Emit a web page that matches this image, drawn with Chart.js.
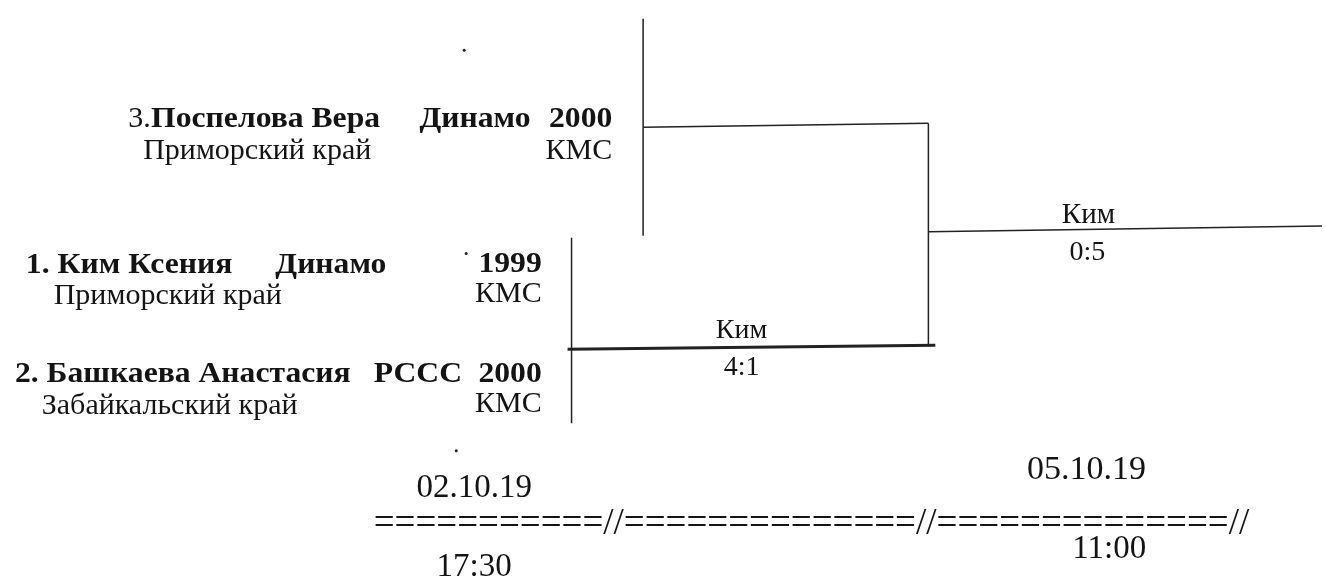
<!DOCTYPE html>
<html>
<head>
<meta charset="utf-8">
<script src="https://cdn.jsdelivr.net/npm/chart.js@4"></script>
<style>
  html, body { margin: 0; padding: 0; background: #fff; overflow: hidden; }
</style>
</head>
<body>
<canvas id="bracket" width="1326" height="583"></canvas>
<script>
//participants
const seeds = ['3.', '1.', '2.'];
const players = ['Поспелова Вера', 'Ким Ксения', 'Башкаева Анастасия'];
const clubs = ['Динамо', 'Динамо', 'РССС'];
const years = ['2000', '1999', '2000'];
const regions = ['Приморский край', 'Приморский край', 'Забайкальский край'];
const ranks = ['КМС', 'КМС', 'КМС'];

//results
const winners = ['Ким', 'Ким'];
const scores = ['4:1', '0:5'];
const dates = ['02.10.19', '05.10.19'];
const times = ['17:30', '11:00'];
const separator = '===========//==============//==============//';

//bracket lines, in chart units (x 0..1326, y 0..583 from top)
const seed3Line = [{x: 643, y: 15}, {x: 643, y: 235}];
const seed3Link = [{x: 643, y: 125}, {x: 930, y: 121}];
const pairLine = [{x: 571, y: 237}, {x: 571, y: 425}];
const semiLine = [{x: 567, y: 350}, {x: 937, y: 346}];
const finalJoin = [{x: 930, y: 121}, {x: 930, y: 345}];
const finalLine = [{x: 930, y: 231}, {x: 1326, y: 225}];
const specks = [{x: 463, y: 47}, {x: 465, y: 253}, {x: 455, y: 453}];

const serif = '"Liberation Serif", "Times New Roman", serif';
const bold = 'bold 30px ' + serif;
const reg = '30px ' + serif;
const boldSx = 1.055;   // scanned bold type runs a bit wider

//text placement
const labels = [
    {text: seeds[0], x: 125, y: 125, font: reg},
    {text: players[0], x: 148, y: 125, font: bold, sx: boldSx},
    {text: clubs[0], x: 418, y: 125, font: bold, sx: boldSx},
    {text: years[0], x: 612, y: 125, font: bold, sx: boldSx, align: 'right'},
    {text: regions[0], x: 140, y: 157, font: reg},
    {text: ranks[0], x: 612, y: 157, font: reg, align: 'right'},

    {text: seeds[1] + ' ' + players[1], x: 22, y: 273, font: bold, sx: boldSx},
    {text: clubs[1], x: 273, y: 273, font: bold, sx: boldSx},
    {text: years[1], x: 541, y: 272, font: bold, sx: boldSx, align: 'right'},
    {text: regions[1], x: 50, y: 304, font: reg},
    {text: ranks[1], x: 541, y: 302, font: reg, align: 'right'},

    {text: seeds[2] + ' ' + players[2], x: 11, y: 383, font: bold, sx: boldSx},
    {text: clubs[2], x: 372, y: 383, font: bold, sx: boldSx},
    {text: years[2], x: 541, y: 383, font: bold, sx: boldSx, align: 'right'},
    {text: regions[2], x: 38, y: 416, font: reg},
    {text: ranks[2], x: 541, y: 414, font: reg, align: 'right'},

    {text: winners[0], x: 742, y: 339, font: '28px ' + serif, align: 'center'},
    {text: scores[0], x: 742, y: 376, font: '28px ' + serif, align: 'center'},
    {text: winners[1], x: 1091, y: 222, font: '29px ' + serif, align: 'center'},
    {text: scores[1], x: 1090, y: 260, font: '28px ' + serif, align: 'center'},

    {text: dates[0], x: 473, y: 500, font: '33px ' + serif, align: 'center'},
    {text: dates[1], x: 1089, y: 482, font: '34px ' + serif, align: 'center'},
    {text: separator, x: 372, y: 537, font: '37px ' + serif},
    {text: times[0], x: 473, y: 580, font: '33px ' + serif, align: 'center'},
    {text: times[1], x: 1112, y: 562, font: '33px ' + serif, align: 'center'}
];

const bracketText = {
    id: 'bracketText',
    afterDatasetsDraw(chart) {
        const ctx = chart.ctx;
        const xs = chart.scales.x;
        const ys = chart.scales.y;
        labels.forEach(l => {
            ctx.save();
            ctx.fillStyle = '#141414';
            ctx.textBaseline = 'alphabetic';
            ctx.font = l.font;
            ctx.textAlign = l.align || 'left';
            ctx.translate(xs.getPixelForValue(l.x), ys.getPixelForValue(l.y));
            ctx.scale(l.sx || 1, 1);
            ctx.fillText(l.text, 0, 0);
            ctx.restore();
        });
    }
};

function seg(data, width){
    return {
        data: data,
        showLine: true,
        borderColor: '#222',
        borderWidth: width || 1.5,
        pointRadius: 0,
        fill: false,
        clip: false
    };
}

new Chart(document.getElementById('bracket'), {
    type: 'scatter',
    data: {
        datasets: [
            seg(seed3Line),
            seg(seed3Link),
            seg(pairLine),
            seg(semiLine, 3),
            seg(finalJoin),
            seg(finalLine),
            {data: specks, pointRadius: 1.5, backgroundColor: '#222', borderWidth: 0, showLine: false}
        ]
    },
    options: {
        responsive: false,
        animation: false,
        events: [],
        layout: {padding: 0},
        plugins: {legend: {display: false}, tooltip: {enabled: false}},
        scales: {
            x: {type: 'linear', min: 0, max: 1326, display: false},
            y: {type: 'linear', min: 0, max: 583, reverse: true, display: false}
        }
    },
    plugins: [bracketText]
});
</script>
</body>
</html>
